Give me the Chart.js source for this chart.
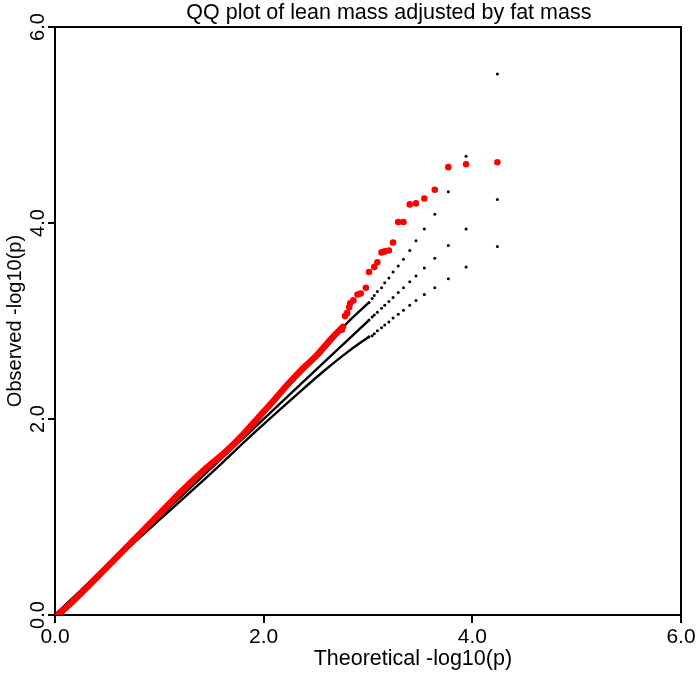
<!DOCTYPE html>
<html>
<head>
<meta charset="utf-8">
<script src="https://cdn.jsdelivr.net/npm/chart.js@4"></script>
<style>
  body { margin: 0; background: #fff; }
</style>
</head>
<body>
<canvas id="qqChart" width="700" height="676"></canvas>
<script>
// sparse tail of the expected line and its 90% band (top ranks, one dot each)
var tailTheoretical = [4.24, 3.94, 3.77, 3.64, 3.54, 3.46, 3.40, 3.34, 3.29, 3.24, 3.20, 3.16, 3.13, 3.09, 3.06, 3.04, 3.01];
var tailUpper = [5.52, 4.68, 4.32, 4.09, 3.94, 3.82, 3.72, 3.63, 3.56, 3.50, 3.44, 3.39, 3.34, 3.30, 3.26, 3.23, 3.19];
var tailLower = [3.76, 3.55, 3.43, 3.34, 3.27, 3.21, 3.16, 3.11, 3.07, 3.03, 2.99, 2.96, 2.93, 2.90, 2.87, 2.85, 2.84];

// dense part, where the dots merge into a line
var denseTheoretical = [0, 0.5, 1.0, 1.5, 1.9, 2.35, 2.6, 2.8, 3.01];
var denseUpper = [0, 0.51, 1.03, 1.55, 1.96, 2.46, 2.73, 2.98, 3.19];
var denseLower = [0, 0.49, 0.97, 1.45, 1.85, 2.28, 2.51, 2.68, 2.84];

// observed -log10(p), lean mass adjusted by fat mass
var obsTailX = [4.24, 3.94, 3.77, 3.64, 3.54, 3.46, 3.40, 3.34, 3.29, 3.24, 3.20, 3.16, 3.13, 3.09, 3.06, 3.01, 2.98, 2.93, 2.90, 2.86, 2.83, 2.82, 2.80, 2.78, 2.75];
var obsTailY = [4.62, 4.60, 4.57, 4.34, 4.25, 4.20, 4.19, 4.01, 4.01, 3.80, 3.72, 3.71, 3.70, 3.60, 3.55, 3.50, 3.34, 3.28, 3.27, 3.21, 3.18, 3.14, 3.08, 3.05, 2.91];
var obsDenseX = [0.03, 0.2, 0.5, 1.0, 1.2, 1.42, 1.65, 1.81, 1.97, 2.09, 2.22, 2.38, 2.51, 2.64, 2.76];
var obsDenseY = [0.0, 0.17, 0.49, 1.03, 1.25, 1.47, 1.68, 1.85, 2.04, 2.18, 2.34, 2.52, 2.65, 2.81, 2.94];

var axisTicks = [0, 2, 4, 6];
var mainTitle = 'QQ plot of lean mass adjusted by fat mass';
var xTitle = 'Theoretical -log10(p)';

function pts(xs, ys) {
    return xs.map(function (x, i) { return {x: x, y: ys[i]}; });
}

var font = 'Liberation Sans, Arial, sans-serif';

// top and right sides of the box, plus main and x titles
// (both sit right of the plot centre in the original image)
var frameBox = {
    id: 'frameBox',
    afterDraw: function (chart) {
        var a = chart.chartArea, c = chart.ctx, sx = chart.scales.x;
        c.save();
        c.strokeStyle = '#000';
        c.lineWidth = 2;
        c.beginPath();
        c.moveTo(a.left, a.top);
        c.lineTo(a.right, a.top);
        c.lineTo(a.right, a.bottom);
        c.stroke();
        c.fillStyle = '#000';
        c.font = '21.5px ' + font;
        c.textAlign = 'center';
        c.textBaseline = 'middle';
        c.fillText(mainTitle, sx.getPixelForValue(3.2), 13);
        c.fillText(xTitle, sx.getPixelForValue(3.43), 659);
        c.restore();
    }
};

var ctx = document.getElementById('qqChart').getContext('2d');
var qqChart = new Chart(ctx, {
    type: 'scatter',
    plugins: [frameBox],
    data: {
        datasets: [{
            label: 'Observed tail',
            data: pts(obsTailX, obsTailY),
            backgroundColor: '#ff0000',
            borderColor: '#ff0000',
            pointRadius: 3.3,
            borderWidth: 0
        }, {
            label: 'Observed',
            data: pts(obsDenseX, obsDenseY),
            showLine: true,
            borderColor: '#ff0000',
            borderWidth: 6.5,
            borderCapStyle: 'round',
            borderJoinStyle: 'round',
            cubicInterpolationMode: 'monotone',
            pointRadius: 0
        }, {
            label: 'Upper tail',
            data: pts(tailTheoretical, tailUpper),
            backgroundColor: '#000',
            pointRadius: 1.5,
            borderWidth: 0
        }, {
            label: 'Expected tail',
            data: pts(tailTheoretical, tailTheoretical),
            backgroundColor: '#000',
            pointRadius: 1.5,
            borderWidth: 0
        }, {
            label: 'Lower tail',
            data: pts(tailTheoretical, tailLower),
            backgroundColor: '#000',
            pointRadius: 1.5,
            borderWidth: 0
        }, {
            label: 'Upper',
            data: pts(denseTheoretical, denseUpper),
            showLine: true,
            borderColor: '#000',
            borderWidth: 2.4,
            cubicInterpolationMode: 'monotone',
            pointRadius: 0
        }, {
            label: 'Expected',
            data: pts(denseTheoretical, denseTheoretical),
            showLine: true,
            borderColor: '#000',
            borderWidth: 2.4,
            pointRadius: 0
        }, {
            label: 'Lower',
            data: pts(denseTheoretical, denseLower),
            showLine: true,
            borderColor: '#000',
            borderWidth: 2.4,
            cubicInterpolationMode: 'monotone',
            pointRadius: 0
        }]
    },
    options: {
        responsive: false,
        animation: false,
        layout: { padding: { top: 27, right: 19 } },
        plugins: {
            legend: { display: false },
            tooltip: { enabled: false },
            title: { display: false }
        },
        scales: {
            x: {
                type: 'linear',
                min: 0, max: 6,
                afterBuildTicks: function (s) { s.ticks = axisTicks.map(function (v) { return {value: v}; }); },
                afterFit: function (s) { s.height = 61; },
                ticks: {
                    color: '#000',
                    font: { family: font, size: 21 },
                    padding: 2,
                    maxRotation: 0,
                    callback: function (v) { return v.toFixed(1); }
                },
                grid: { drawOnChartArea: false, color: '#000', lineWidth: 2, tickLength: 8 },
                border: { color: '#000', width: 2 },
                title: { display: false }
            },
            y: {
                type: 'linear',
                min: 0, max: 6,
                afterBuildTicks: function (s) { s.ticks = axisTicks.map(function (v) { return {value: v}; }); },
                afterFit: function (s) { s.width = 55; },
                ticks: {
                    color: '#000',
                    font: { family: font, size: 20 },
                    minRotation: 90,
                    maxRotation: 90,
                    crossAlign: 'center',
                    padding: -4,
                    callback: function (v) { return v.toFixed(1); }
                },
                grid: { drawOnChartArea: false, color: '#000', lineWidth: 2, tickLength: 7 },
                border: { color: '#000', width: 2 },
                title: {
                    display: true,
                    text: 'Observed -log10(p)',
                    color: '#000',
                    font: { family: font, size: 20 },
                    padding: { top: 3, bottom: 0 }
                }
            }
        }
    }
});
</script>
</body>
</html>
